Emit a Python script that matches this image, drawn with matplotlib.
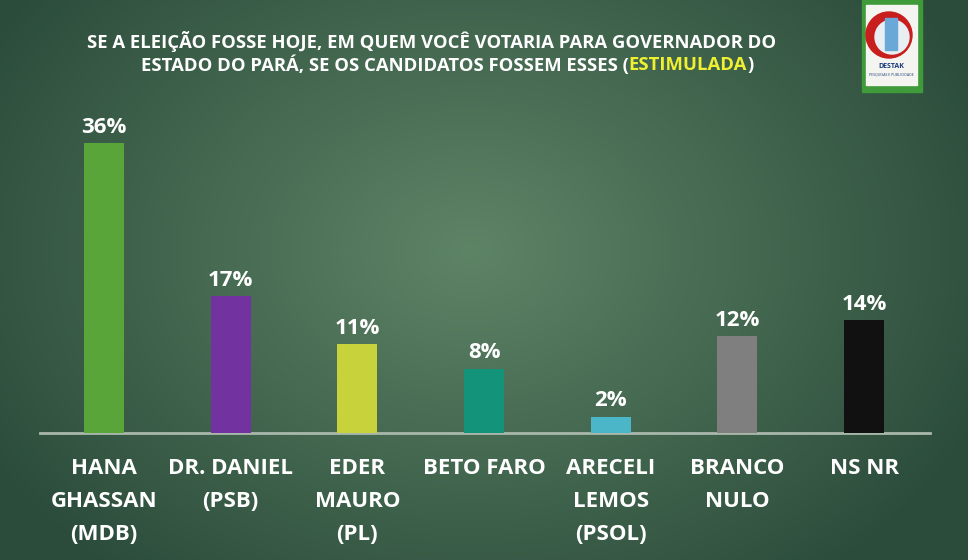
import numpy as np
import matplotlib
matplotlib.use("Agg")
import matplotlib.pyplot as plt
from matplotlib.patches import Rectangle, Circle

categories = ["HANA\nGHASSAN\n(MDB)", "DR. DANIEL\n(PSB)", "EDER\nMAURO\n(PL)", "BETO FARO",
              "ARECELI\nLEMOS\n(PSOL)", "BRANCO\nNULO", "NS NR"]
values = [36, 17, 11, 8, 2, 12, 14]
value_labels = ["36%", "17%", "11%", "8%", "2%", "12%", "14%"]
colors = ["#5aa53a", "#7232a0", "#c8d23a", "#12937a", "#4ab6c8", "#7f7f7f", "#111111"]
title_line1 = "SE A ELEIÇÃO FOSSE HOJE, EM QUEM VOCÊ VOTARIA PARA GOVERNADOR DO"
title_line2a = "ESTADO DO PARÁ, SE OS CANDIDATOS FOSSEM ESSES ("
title_line2b = "ESTIMULADA"
title_line2c = ")"

FONT = ["Open Sans", "DejaVu Sans"]
plt.rcParams['font.family'] = FONT

W, H = 968, 560
fig = plt.figure(figsize=(W / 100, H / 100), dpi=100)

# radial gradient background
bg = fig.add_axes([0, 0, 1, 1], zorder=-10)
yy, xx = np.mgrid[0:H, 0:W]
cx, cy = 470, 250
r = np.sqrt(((xx - cx) / 560.0) ** 2 + ((yy - cy) / 420.0) ** 2)
r = np.clip(r, 0, 1)
c_in = np.array([0x5e, 0x84, 0x66]) / 255.0
c_out = np.array([0x2b, 0x4c, 0x3b]) / 255.0
img = c_in[None, None, :] * (1 - r[..., None]) + c_out[None, None, :] * r[..., None]
bg.imshow(img, aspect='auto', extent=[0, W, H, 0])
bg.set_xlim(0, W)
bg.set_ylim(H, 0)
bg.axis('off')

# logo
bg.add_patch(Rectangle((862, 0), 60, 92, color="#3f9a3a", zorder=2))
bg.add_patch(Rectangle((866, 5), 51, 80, color="#f4f4f0", zorder=3))
bg.add_patch(Circle((889, 35), 23, color="#c81e1e", zorder=4))
bg.add_patch(Circle((892, 37), 17, color="#e8eef2", zorder=5))
bg.add_patch(Rectangle((885, 18), 12, 32, color="#6aa8d8", zorder=6))
bg.text(891, 66, "DESTAK", color="#1a3a7a", fontsize=5, fontweight='bold', ha='center', va='center', zorder=7)
bg.text(891, 75, "PESQUISAS E PUBLICIDADE", color="#1a3a7a", fontsize=2.5, ha='center', va='center', zorder=7)

# title
FS = 13.3
bg.text(432, 41, title_line1, ha='center', va='center', color="white", fontsize=FS, fontweight='bold')
y2 = 1 - 65 / H
t1 = fig.text(0, y2, title_line2a, color="white", fontsize=FS, fontweight='bold', va='center', ha='left')
t2 = fig.text(0, y2, title_line2b, color="#f0f032", fontsize=FS, fontweight='bold', va='center', ha='left')
t3 = fig.text(0, y2, title_line2c, color="white", fontsize=FS, fontweight='bold', va='center', ha='left')
fig.canvas.draw()
r = fig.canvas.get_renderer()
w1 = t1.get_window_extent(r).width
w2 = t2.get_window_extent(r).width
w3 = t3.get_window_extent(r).width
x0 = 447 - (w1 + w2 + w3) / 2
t1.set_x(x0 / W)
t2.set_x((x0 + w1) / W)
t3.set_x((x0 + w1 + w2) / W)

# bars
ax = fig.add_axes([40 / W, (H - 433) / H, 890 / W, 322 / H])
ax.set_facecolor('none')
x = np.arange(len(values))
ax.bar(x, values, width=0.315, color=colors, zorder=3)
ax.set_xlim(-0.505, 6.52)
ax.set_ylim(0, 40)
for s in ['top', 'right', 'left']:
    ax.spines[s].set_visible(False)
ax.spines['bottom'].set_color("#a9b8ab")
ax.spines['bottom'].set_linewidth(2)
ax.set_yticks([])
ax.set_xticks(x)
ax.set_xticklabels(categories, color="white", fontsize=16, fontweight='bold', linespacing=1.75, va='top')
ax.tick_params(axis='x', length=0, pad=18)
for xi, v, lab in zip(x, values, value_labels):
    ax.annotate(lab, (xi, v), xytext=(0, 4), textcoords='offset points', ha='center', va='bottom',
                color="white", fontsize=16, fontweight='bold')

fig.savefig("out.png", dpi=100)
